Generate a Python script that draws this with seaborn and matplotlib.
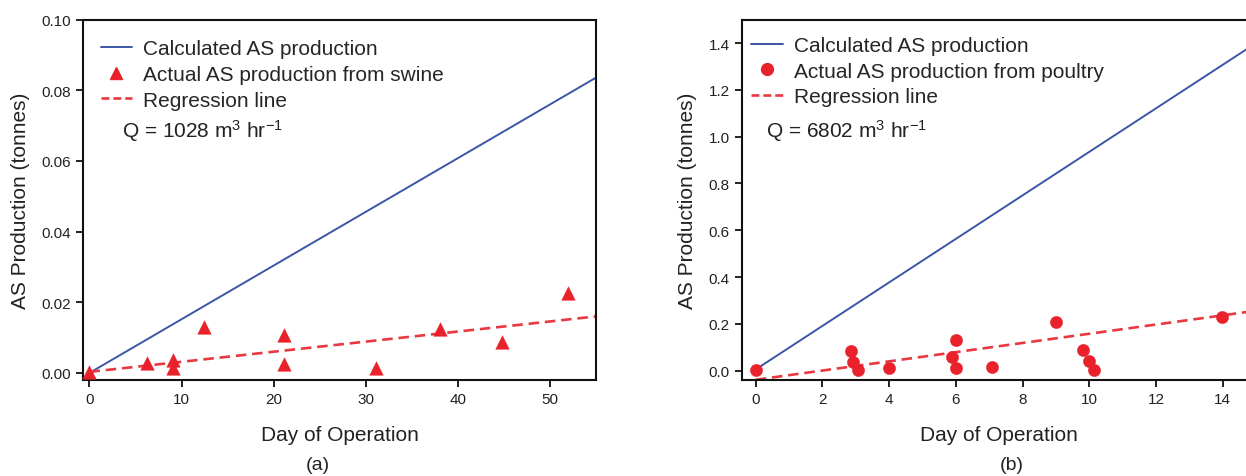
import matplotlib
matplotlib.use("Agg")
import matplotlib.pyplot as plt
import seaborn as sns
import pandas as pd
from matplotlib.lines import Line2D

# ---- data (a) swine ----
swine_days = [0, 6.2, 9.1, 9.1, 12.4, 21.1, 21.1, 31.1, 38.1, 44.8, 52.0]
swine_prod = [0.0004, 0.0028, 0.0038, 0.0013, 0.0129, 0.0106, 0.0024, 0.0013, 0.0124, 0.0087, 0.0226]
calc_days_a = [0, 55]
calc_prod_a = [0.0, 0.0836]
reg_days_a = [0, 55]
reg_prod_a = [0.0003, 0.0160]

# ---- data (b) poultry ----
poultry_days = [0, 2.85, 2.92, 3.07, 4.0, 5.9, 6.02, 6.0, 7.1, 9.0, 9.82, 9.98, 10.15, 13.98]
poultry_prod = [0.002, 0.083, 0.039, 0.003, 0.010, 0.057, 0.129, 0.010, 0.014, 0.21, 0.09, 0.04, 0.004, 0.231]
calc_days_b = [0, 15]
calc_prod_b = [0.005, 1.40]
reg_days_b = [0, 15]
reg_prod_b = [-0.039, 0.256]

xticks_a = [0, 10, 20, 30, 40, 50]
yticks_a = [0.00, 0.02, 0.04, 0.06, 0.08, 0.10]
xticks_b = [0, 2, 4, 6, 8, 10, 12, 14]
yticks_b = [0.0, 0.2, 0.4, 0.6, 0.8, 1.0, 1.2, 1.4]

sns.set_theme(style="ticks")
plt.rcParams['font.family'] = ['Liberation Sans', 'DejaVu Sans']
plt.rcParams['mathtext.fontset'] = 'custom'
plt.rcParams['mathtext.rm'] = 'Liberation Sans'
plt.rcParams['mathtext.it'] = 'Liberation Sans'

BLUE = '#3b56a6'
RED = '#e8212b'
RED_D = '#e83840'

fig = plt.figure(figsize=(12.46, 4.77), dpi=100)
ax1 = fig.add_axes([83/1246, 1-381/477, 513/1246, 360.3/477])
ax2 = fig.add_axes([742/1246, 1-381/477, 514/1246, 360.3/477])

def panel(ax, cd, cp, sd, sp, rd, rp, marker, msize, lmsize, label_pts, xlim, ylim, xt, yt, fmt,
          qtext, leg_anchor, qx):
    sns.lineplot(x=cd, y=cp, ax=ax, color=BLUE, lw=1.4, legend=False)
    sns.lineplot(x=rd, y=rp, ax=ax, color=RED_D, lw=1.9, legend=False, linestyle=(0, (4, 2.2)))
    sns.scatterplot(x=sd, y=sp, ax=ax, color=RED, marker=marker, s=msize, linewidth=0.3,
                    edgecolor=RED, legend=False, zorder=5, clip_on=False)
    ax.set_xlim(*xlim)
    ax.set_ylim(*ylim)
    ax.set_xticks(xt)
    ax.set_yticks(yt)
    ax.set_yticklabels([fmt.format(v) for v in yt])
    for s in ax.spines.values():
        s.set_linewidth(1.5)
        s.set_color('#111111')
    ax.tick_params(axis='both', which='major', labelsize=11, length=5, width=1.3,
                   direction='out', color='#111111', labelcolor='#222222', pad=4)
    ax.set_xlabel('Day of Operation', fontsize=15, labelpad=13, color='#222222')
    ax.set_ylabel('AS Production (tonnes)', fontsize=15, labelpad=8, color='#222222')
    handles = [Line2D([], [], color=BLUE, lw=1.4),
               Line2D([], [], color=RED, marker=marker, linestyle='none', markersize=lmsize),
               Line2D([], [], color=RED_D, lw=1.9, linestyle=(0, (3, 1.5)))]
    ax.legend(handles, ['Calculated AS production', label_pts, 'Regression line'],
              loc='upper left', bbox_to_anchor=leg_anchor, frameon=False, fontsize=15,
              handlelength=1.5, handletextpad=0.55, labelspacing=0.32, borderpad=0.2,
              borderaxespad=0)
    ax.text(qx, 0.695, qtext, transform=ax.transAxes, fontsize=15, color='#222222',
            va='center', ha='left')
    ax.grid(False)

panel(ax1, calc_days_a, calc_prod_a, swine_days, swine_prod, reg_days_a, reg_prod_a,
      '^', 95, 8.5, 'Actual AS production from swine', (-0.7, 55), (-0.002, 0.10),
      xticks_a, yticks_a, '{:.2f}', r'Q = 1028 m$^{3}$ hr$^{-1}$', (0.026, 0.957), 0.076)
panel(ax2, calc_days_b, calc_prod_b, poultry_days, poultry_prod, reg_days_b, reg_prod_b,
      'o', 78, 8.5, 'Actual AS production from poultry', (-0.41, 15.0), (-0.04, 1.5),
      xticks_b, yticks_b, '{:.1f}', r'Q = 6802 m$^{3}$ hr$^{-1}$', (0.01, 0.966), 0.047)

fig.text(318/1246, 1-466/477, '(a)', ha='center', va='center', fontsize=14, color='#222222')
fig.text(1012/1246, 1-466/477, '(b)', ha='center', va='center', fontsize=14, color='#222222')

fig.savefig('out.png', dpi=100)
